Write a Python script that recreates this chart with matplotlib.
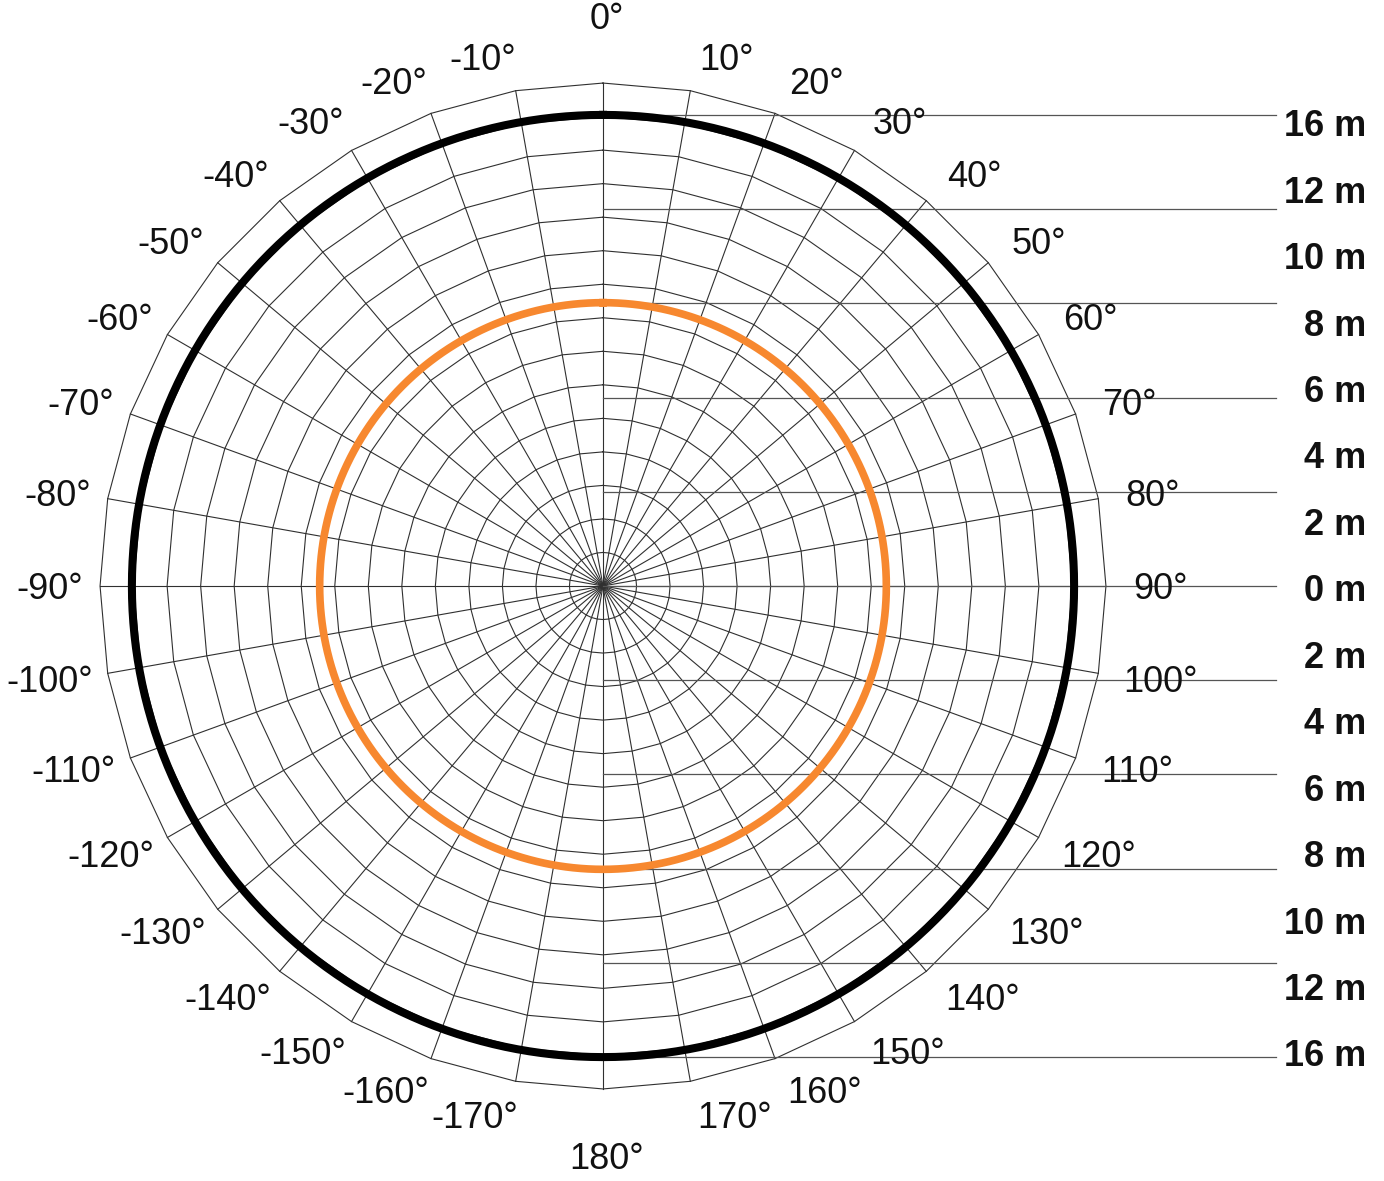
import numpy as np
import matplotlib
matplotlib.use('Agg')
import matplotlib.pyplot as plt

plt.rcParams['font.family'] = ['Liberation Sans', 'DejaVu Sans']

# --- data ---
spoke_angles = list(range(0, 360, 10))          # radial grid lines (deg, clockwise from top)
n_rings = 15                                     # concentric grid polygons
black_radius = 14.05                             # outer coverage circle (ring units)
orange_radius = 8.45                             # inner coverage circle (ring units)
guide_levels = [14.05, 11.24, 8.43, 5.62, 2.81, 0.0,
                -2.81, -5.62, -8.43, -11.24, -14.05]
angle_labels = [0, 10, 20, 30, 40, 50, 60, 70, 80, 90, 100, 110, 120, 130, 140, 150, 160, 170, 180,
                -10, -20, -30, -40, -50, -60, -70, -80, -90, -100, -110, -120, -130, -140, -150, -160, -170]
dist_labels = ["16 m", "12 m", "10 m", "8 m", "6 m", "4 m", "2 m", "0 m",
               "2 m", "4 m", "6 m", "8 m", "10 m", "12 m", "16 m"]

# --- layout (pixels) ---
W, H = 1384, 1181
CX, CY = 603, 586
PX = 33.53          # pixels per ring
FS = 26

fig = plt.figure(figsize=(W / 100, H / 100), dpi=100)
ax = fig.add_axes([0, 0, 1, 1])
ax.set_xlim(-CX / PX, (W - CX) / PX)
ax.set_ylim(-(H - CY) / PX, CY / PX)
ax.axis('off')

th = np.deg2rad(spoke_angles)

# spokes
for t in th:
    ax.plot([0, n_rings * np.sin(t)], [0, n_rings * np.cos(t)],
            color='#303030', lw=0.8, zorder=1)

# polygon rings
th_closed = np.append(th, th[0])
for r in range(1, n_rings + 1):
    ax.plot(r * np.sin(th_closed), r * np.cos(th_closed),
            color='#303030', lw=0.8, zorder=1)

# horizontal guide lines to the right
for g in guide_levels:
    ax.plot([0, (1276 - CX) / PX], [g, g], color='#555555', lw=0.9, zorder=1)

# coverage circles
phi = np.linspace(0, 2 * np.pi, 721)
ax.plot(black_radius * np.sin(phi), black_radius * np.cos(phi),
        color='black', lw=5.8, zorder=3)
ax.plot(orange_radius * np.sin(phi), orange_radius * np.cos(phi),
        color='#F7882F', lw=5.5, zorder=3)

# angle labels
half_digit = 12.8 / PX
for a in angle_labels:
    t = np.deg2rad(a)
    if a in (0, 180):
        x = 4 / PX
        y = np.cos(t) * 570 / PX
    else:
        shift = 18 + 11 * np.cos(t) ** 2 + (8 if abs(a) > 90 else 0)
        x = np.sign(np.sin(t)) * (537 * abs(np.sin(t)) + shift) / PX + 2 / PX
        y = 537 * np.cos(t) / PX
    ax.text(x, y - half_digit, f"{a}°", ha='center', va='baseline',
            fontsize=FS, color='#111111')

# distance labels on the right
step = 66.45 / PX
for i, lab in enumerate(dist_labels):
    y = (7 - i) * step - 2.5 / PX
    ax.text((1366 - CX) / PX, y - half_digit, lab, ha='right', va='baseline',
            fontsize=FS, fontweight='bold', color='#111111')

fig.savefig('out.png', dpi=100, facecolor='white')
